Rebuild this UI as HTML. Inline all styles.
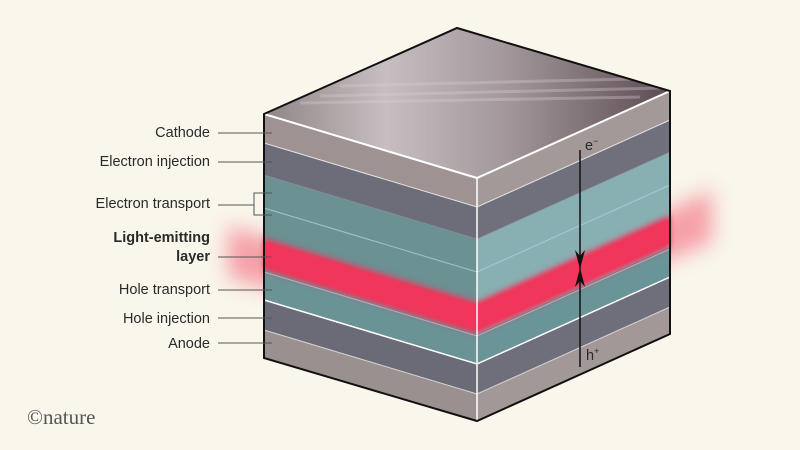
<!DOCTYPE html>
<html><head><meta charset="utf-8"><style>
html,body{margin:0;padding:0;background:#f9f6ec;}
svg{display:block}
text{font-family:"Liberation Sans",sans-serif;font-size:14.5px;fill:#2a2a2a}
</style></head><body>
<svg width="800" height="450" viewBox="0 0 800 450" xmlns="http://www.w3.org/2000/svg">
<defs>
<linearGradient id="top" x1="264" y1="0" x2="670" y2="0" gradientUnits="userSpaceOnUse">
<stop offset="0" stop-color="#8f8587"/><stop offset="0.3" stop-color="#c6bec0"/><stop offset="0.6" stop-color="#a2979a"/><stop offset="1" stop-color="#5b4c53"/>
</linearGradient>
<filter id="blur" filterUnits="userSpaceOnUse" x="150" y="100" width="650" height="320"><feGaussianBlur stdDeviation="10"/></filter>
<filter id="blur2" filterUnits="userSpaceOnUse" x="200" y="150" width="550" height="250"><feGaussianBlur stdDeviation="3"/></filter>
<clipPath id="topclip"><polygon points="264,114 457,28 670,91 477,178"/></clipPath>
</defs>
<rect width="800" height="450" fill="#f9f6ec"/>
<!-- glow outside -->
<polygon points="228,226 477,298 712,190 712,242 477,340 228,278" fill="#f4677c" opacity="0.6" filter="url(#blur)"/>
<!-- left face layers -->
<g>
<polygon points="264,114 477,178 477,207 264,143" fill="#9e9292"/>
<polygon points="264,143 477,207 477,239 264,175" fill="#6c6d78"/>
<polygon points="264,175 477,239 477,302 264,238" fill="#6b9193"/>
<polygon points="264,238 477,302 477,334 264,270" fill="#6a9396"/>
<polygon points="264,270 477,334 477,364 264,300" fill="#6a9396"/>
<polygon points="264,300 477,364 477,394 264,330" fill="#6b6b78"/>
<polygon points="264,330 477,394 477,421 264,358" fill="#9b9090"/>
</g>
<!-- right face layers -->
<g>
<polygon points="477,178 670,91 670,120 477,207" fill="#a49999"/>
<polygon points="477,207 670,120 670,152 477,239" fill="#6f707c"/>
<polygon points="477,239 670,152 670,215 477,302" fill="#88b0b3"/>
<polygon points="477,302 670,215 670,247 477,334" fill="#88b0b3"/>
<polygon points="477,334 670,247 670,277 477,364" fill="#6a9598"/>
<polygon points="477,364 670,277 670,307 477,394" fill="#6f6f7c"/>
<polygon points="477,394 670,307 670,334 477,421" fill="#a39898"/>
</g>
<!-- red band -->
<polygon points="264,238 477,302 670,215 670,247 477,334 264,270" fill="#ee3558" filter="url(#blur2)"/>
<polygon points="264,242 477,306 670,219 670,243 477,330 264,266" fill="#f0365a"/>
<!-- inner lines -->
<g fill="none" stroke-width="1">
<polyline points="264,208 477,272 670,185" stroke="#a8d2dc" opacity="0.8"/>
<polyline points="264,143 477,207 670,120" stroke="#e6e2e2"/>
<polyline points="264,272 477,336 670,249" stroke="#a8d2dc" opacity="0.7"/>
<polyline points="264,300 477,364 670,277" stroke="#ffffff" stroke-width="1.5"/>
<polyline points="264,330 477,394 670,307" stroke="#d8d2d2"/>
<polyline points="264,175 477,239 670,152" stroke="#8a8a96" opacity="0.6"/>
</g>
<!-- top face -->
<polygon points="264,114 457,28 670,91 477,178" fill="url(#top)"/>
<g stroke="#d9cfd2" stroke-width="3" opacity="0.35" clip-path="url(#topclip)">
<line x1="340" y1="86" x2="670" y2="78"/><line x1="320" y1="96" x2="660" y2="88"/><line x1="300" y1="103" x2="640" y2="97"/>
</g>
<polyline points="264,114 477,178 670,91" fill="none" stroke="#fff" stroke-width="2"/>
<line x1="477" y1="178" x2="477" y2="421" stroke="#fff" stroke-width="1.5"/>
<!-- outline -->
<polygon points="264,114 457,28 670,91 670,334 477,421 264,358" fill="none" stroke="#111" stroke-width="2"/>
<!-- arrow -->
<line x1="580" y1="150" x2="580" y2="367" stroke="#111" stroke-width="1.5"/>
<polygon points="575,250 580,269 585,250 580,256" fill="#111"/>
<polygon points="575,287 580,268 585,287 580,281" fill="#111"/>
<text x="585" y="150" font-size="14">e<tspan dy="-6" font-size="9">−</tspan></text>
<text x="586" y="360" font-size="14">h<tspan dy="-6" font-size="9">+</tspan></text>
<!-- labels -->
<g stroke="#555" stroke-width="1">
<line x1="218" y1="133" x2="272" y2="133"/>
<line x1="218" y1="162" x2="272" y2="162"/>
<line x1="218" y1="205" x2="254" y2="205"/>
<polyline points="272,193 254,193 254,215 272,215" fill="none"/>
<line x1="218" y1="257" x2="272" y2="257"/>
<line x1="218" y1="290" x2="272" y2="290"/>
<line x1="218" y1="318" x2="272" y2="318"/>
<line x1="218" y1="343" x2="272" y2="343"/>
</g>
<g text-anchor="end">
<text x="210" y="137">Cathode</text>
<text x="210" y="166">Electron injection</text>
<text x="210" y="208">Electron transport</text>
<text x="210" y="242" font-weight="bold">Light-emitting</text>
<text x="210" y="261" font-weight="bold">layer</text>
<text x="210" y="294">Hole transport</text>
<text x="210" y="323">Hole injection</text>
<text x="210" y="348">Anode</text>
</g>
<text x="27" y="424" style="font-family:'Liberation Serif',serif;font-size:21px;fill:#555">©nature</text>
</svg>
</body></html>
